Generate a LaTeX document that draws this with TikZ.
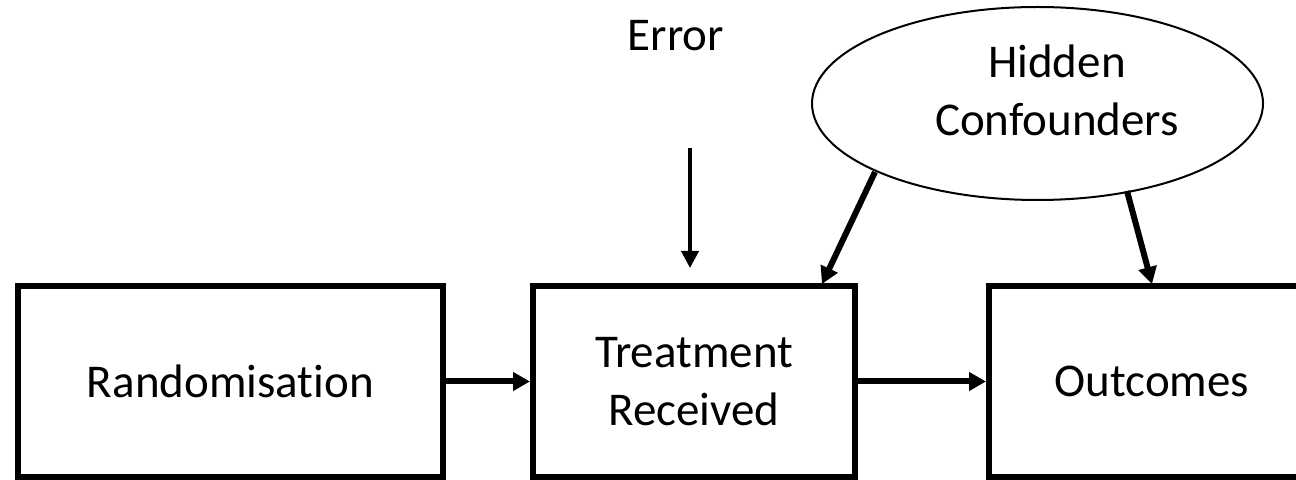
\documentclass[tikz,border=0pt]{standalone}
\usepackage{fontspec}
\setmainfont[Ligatures=NoCommon]{Carlito}
\usetikzlibrary{arrows.meta,shapes.geometric}

\tikzset{
  box/.style={draw, line width=3pt, minimum height=95.5pt, inner sep=0pt, align=center},
  lbl/.style={font=\fontsize{23.5}{29}\selectfont, align=center, inner sep=0pt},
  arr/.style={line width=3pt, -{Triangle[length=8.5pt,width=9pt]}, shorten <=-1.5pt},
  thinarr/.style={line width=2pt, -{Triangle[length=8.5pt,width=8.5pt]}},
}

\begin{document}
\begin{tikzpicture}[x=0.5pt, y=-0.5pt]
  \useasboundingbox (0,0) rectangle (1296,480);
  \clip (0,0) rectangle (1296,480);

  % the three boxes along the causal chain
  \node[box, lbl, minimum width=212.5pt] (rand) at (230.5,381.5) {Randomisation};
  \node[box, lbl, minimum width=161pt] (treat) at (694,381.5) {Treatment\\Received};
  \node[box, lbl, minimum width=163pt] (out) at (1152,381.5) {Outcomes};

  % unobserved confounders
  \node[draw, line width=1pt, ellipse, minimum width=225.5pt, minimum height=96.5pt] (hc) at (1037.5,103.5) {};
  \node[lbl] (hctext) at (1057,90) {Hidden\\Confounders};

  % error term
  \node[lbl, anchor=base] (err) at (676,51) {Error};
  \coordinate (errstart) at (690,148);
  \coordinate (errend) at (690,268);

  % arrow end points on the confounder ellipse and box tops
  \coordinate (h1) at (875,172);
  \coordinate (h1end) at (822,284);
  \coordinate (h2) at (1127,191);
  \coordinate (h2end) at (1152,284);

  \draw[arr] (rand.east) -- (treat.west);
  \draw[arr] (treat.east) -- (out.west);
  \draw[thinarr] (errstart) -- (errend);
  \draw[arr, shorten <=0pt] (h1) -- (h1end);
  \draw[arr, shorten <=0pt] (h2) -- (h2end);
\end{tikzpicture}
\end{document}
